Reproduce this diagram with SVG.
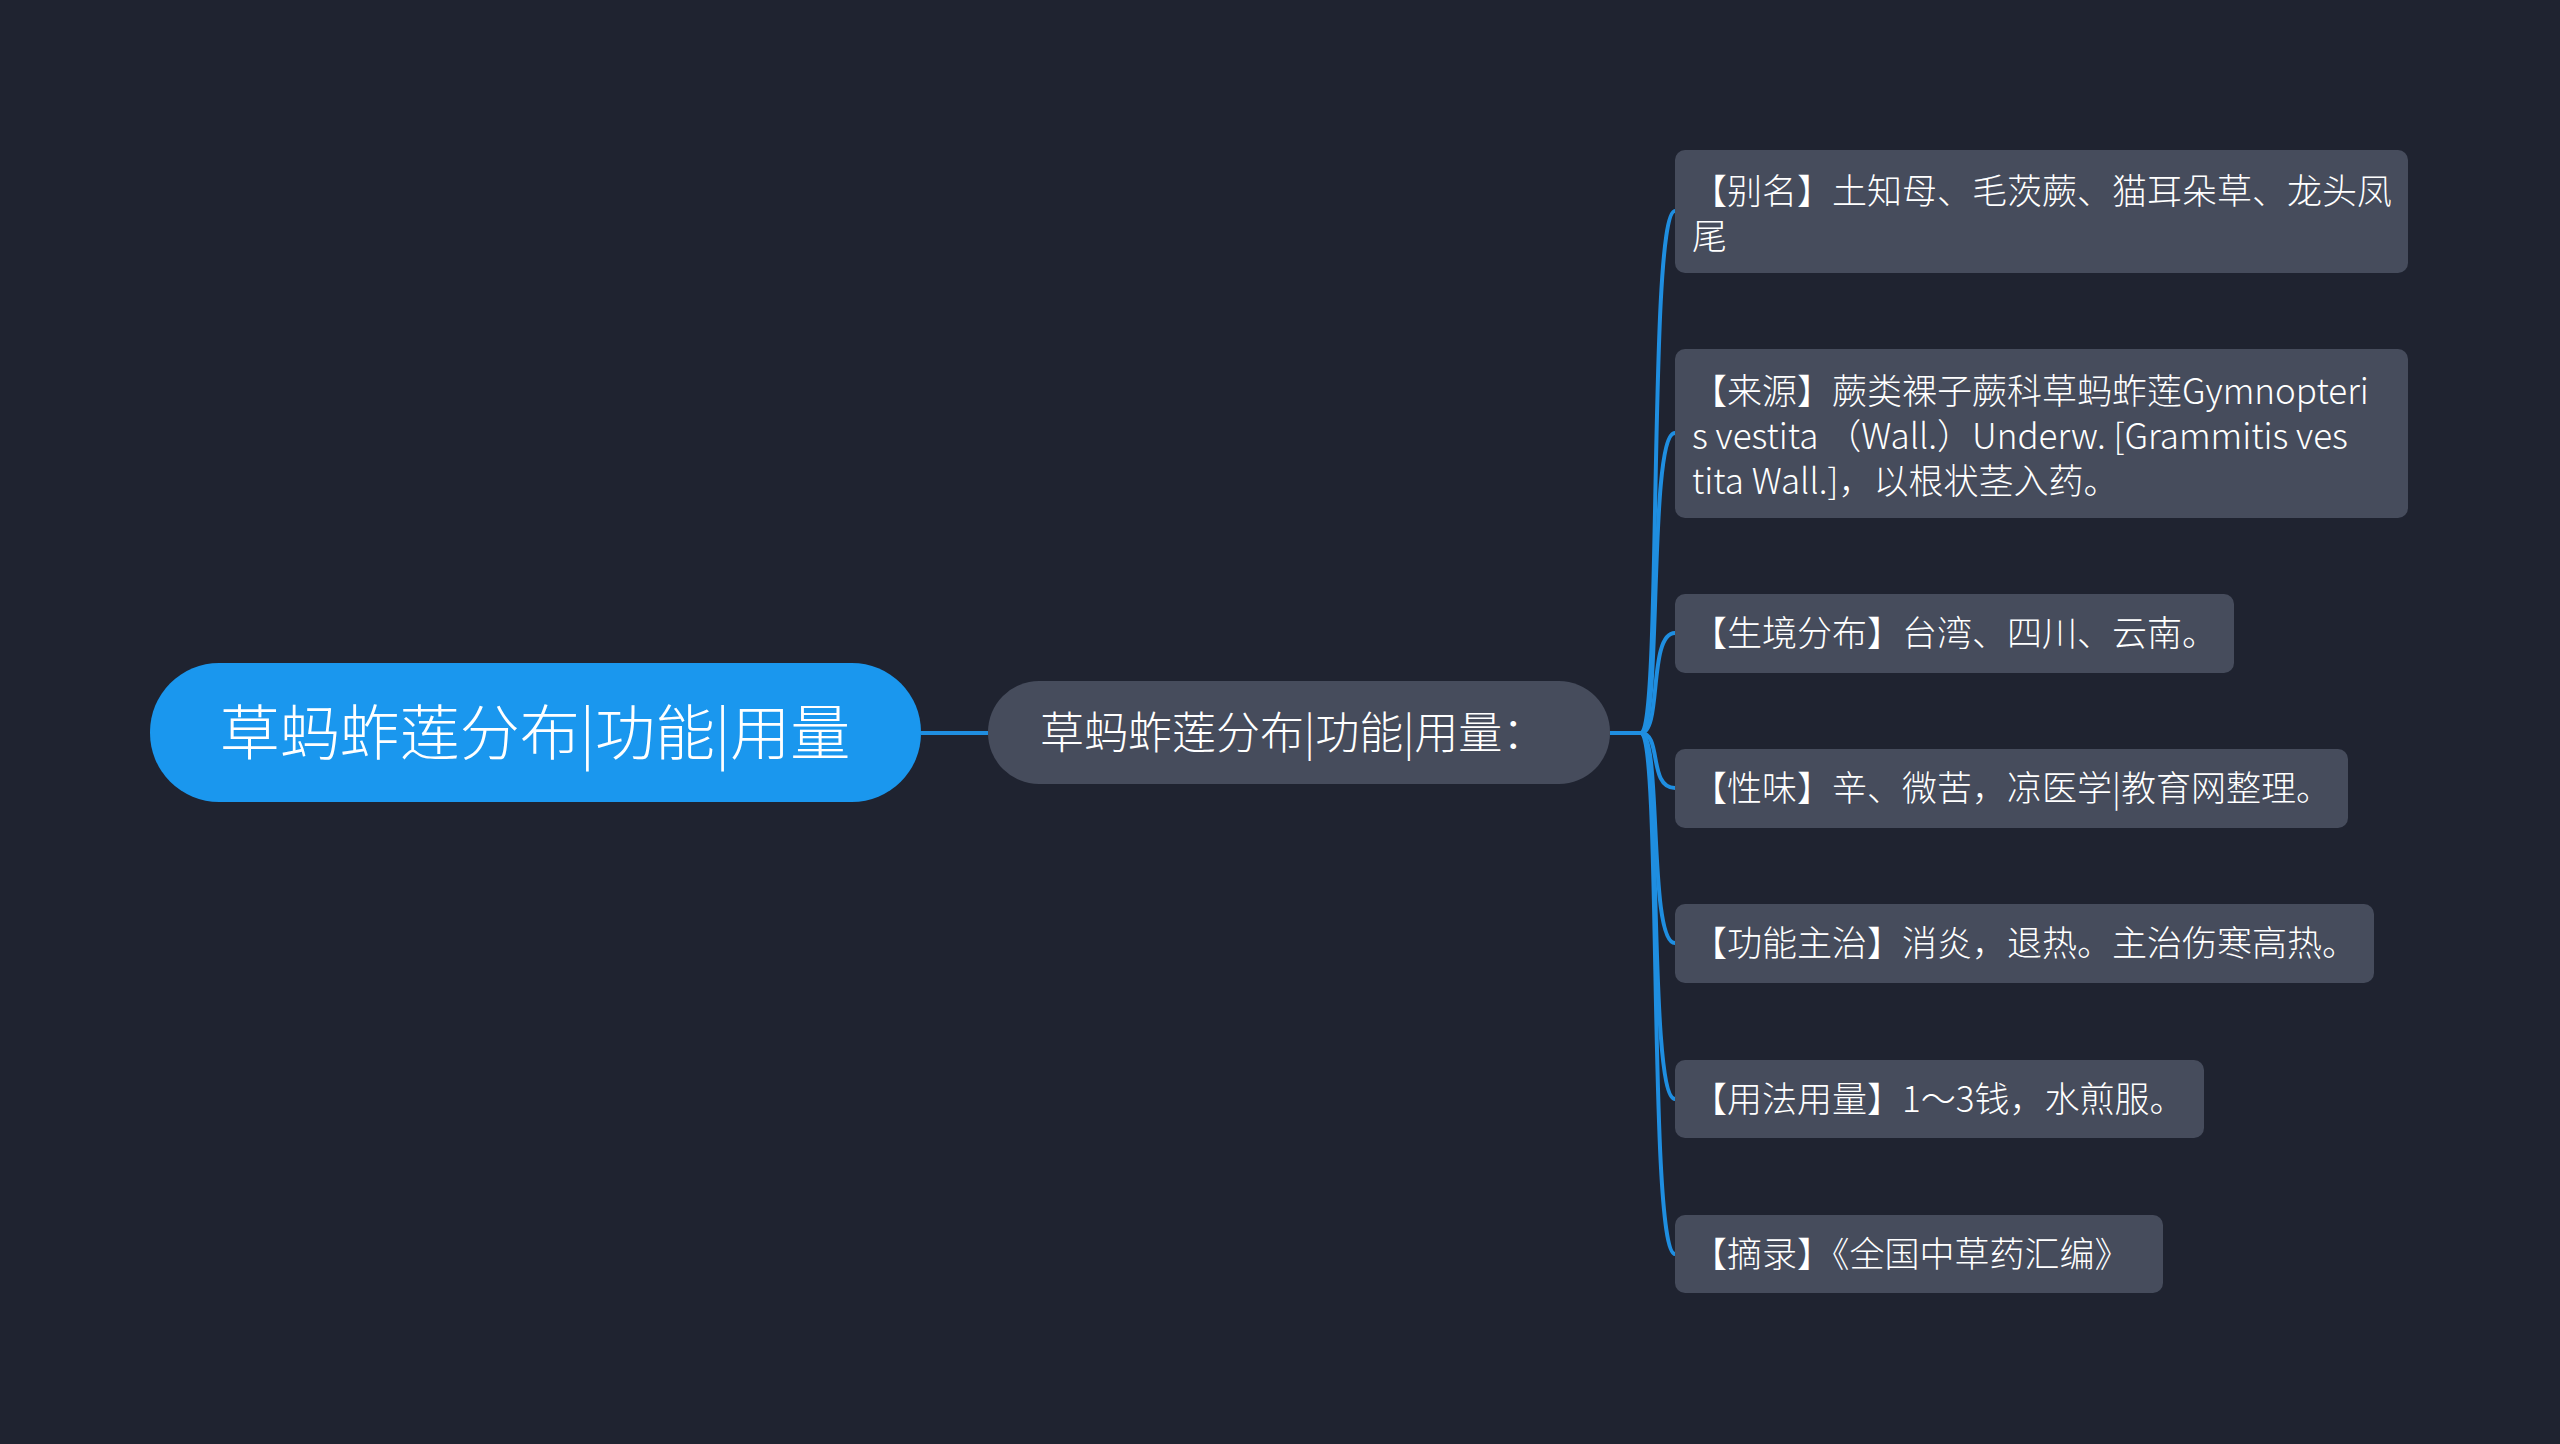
<svg xmlns="http://www.w3.org/2000/svg" width="2560" height="1444" viewBox="0 0 2560 1444">
<style>
text{font-family:"Noto Sans CJK SC","Noto Sans",sans-serif;fill:#ffffff;font-weight:300}
.leaf rect{fill:#464c5c}
.leaf text{font-size:35px}
.c{fill:none;stroke:#1f8ee0;stroke-width:4}
</style>
<rect width="2560" height="1444" fill="#1f2330"/>
<g id="connectors">
<path class="c" d="M921 733H988"/>
<path class="c" d="M1610 733H1641"/>
<path class="c" d="M1641 733C1662 733 1648 211 1675 211"/>
<path class="c" d="M1641 733C1662 733 1648 433 1675 433"/>
<path class="c" d="M1641 733C1662 733 1648 633 1675 633"/>
<path class="c" d="M1641 733C1662 733 1648 788 1675 788"/>
<path class="c" d="M1641 733C1662 733 1648 943 1675 943"/>
<path class="c" d="M1641 733C1662 733 1648 1099 1675 1099"/>
<path class="c" d="M1641 733C1662 733 1648 1254 1675 1254"/>
</g>
<g id="root"><rect x="150" y="663" width="771" height="139" rx="69" fill="#1a97ee"/><text x="535" y="755" font-size="60" text-anchor="middle">草蚂蚱莲分布|功能|用量</text></g>
<g id="mid"><rect x="988" y="681" width="622" height="103" rx="51" fill="#464c5c"/><text x="1040" y="749" font-size="44">草蚂蚱莲分布|功能|用量：</text></g>
<g id="n1" class="leaf"><rect x="1675" y="150" width="733" height="123" rx="10"/><text x="1692" y="204">【别名】土知母、毛茨蕨、猫耳朵草、龙头凤</text><text x="1692" y="249">尾</text></g>
<g id="n2" class="leaf"><rect x="1675" y="349" width="733" height="169" rx="10"/><text x="1692" y="404">【来源】蕨类裸子蕨科草蚂蚱莲Gymnopteri</text><text x="1692" y="449">s vestita （Wall.）Underw. [Grammitis ves</text><text x="1692" y="494">tita Wall.]，以根状茎入药。</text></g>
<g id="n3" class="leaf"><rect x="1675" y="594" width="559" height="79" rx="10"/><text x="1692" y="646">【生境分布】台湾、四川、云南。</text></g>
<g id="n4" class="leaf"><rect x="1675" y="749" width="673" height="79" rx="10"/><text x="1692" y="801">【性味】辛、微苦，凉医学|教育网整理。</text></g>
<g id="n5" class="leaf"><rect x="1675" y="904" width="699" height="79" rx="10"/><text x="1692" y="956">【功能主治】消炎，退热。主治伤寒高热。</text></g>
<g id="n6" class="leaf"><rect x="1675" y="1060" width="529" height="78" rx="10"/><text x="1692" y="1112">【用法用量】1～3钱，水煎服。</text></g>
<g id="n7" class="leaf"><rect x="1675" y="1215" width="488" height="78" rx="10"/><text x="1692" y="1267">【摘录】《全国中草药汇编》</text></g>
</svg>
